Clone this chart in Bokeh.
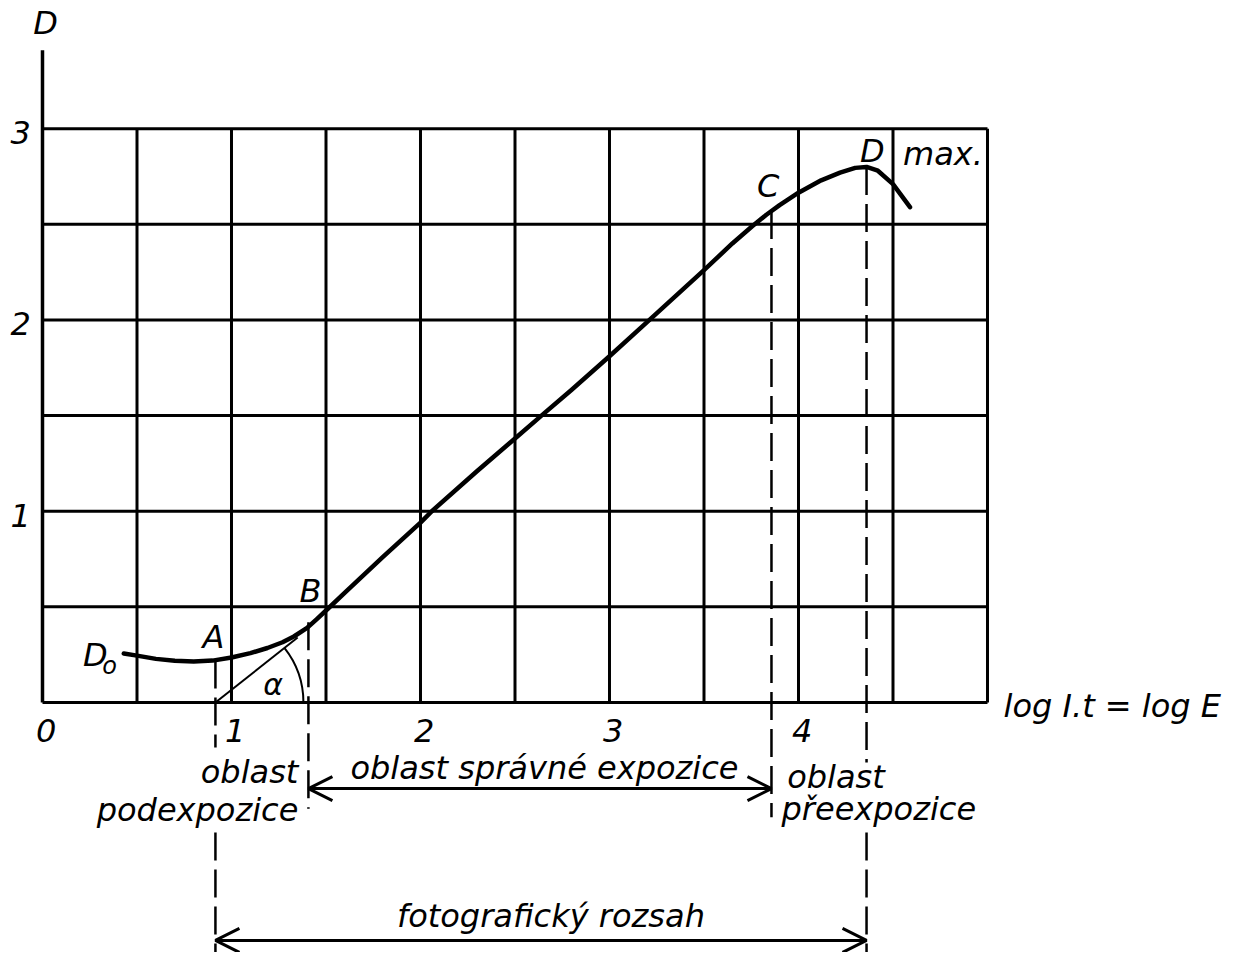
from bokeh.plotting import figure
from bokeh.models import Range1d, Arrow, OpenHead
from bokeh.core.properties import value
from bokeh.embed import file_html
from bokeh.resources import INLINE

# ---- data ----
# characteristic curve D = f(log E)
curve_x = [0.43, 0.5, 0.6, 0.7, 0.8, 0.9, 1.0, 1.1, 1.19, 1.27, 1.33, 1.40, 1.45, 1.51,
           1.6, 1.8, 2.0, 2.06, 2.3, 2.5, 2.64, 2.8, 3.0, 3.2, 3.5, 3.65, 3.755, 3.83, 3.9,
           4.0, 4.12, 4.22, 4.3, 4.36, 4.42, 4.5, 4.59]
curve_y = [0.256, 0.245, 0.228, 0.218, 0.214, 0.219, 0.235, 0.258, 0.285, 0.315, 0.345, 0.39, 0.435, 0.49,
           0.575, 0.76, 0.94, 1.0, 1.21, 1.38, 1.5, 1.635, 1.81, 1.99, 2.26, 2.40, 2.49, 2.55, 2.60,
           2.665, 2.73, 2.77, 2.795, 2.80, 2.78, 2.71, 2.59]

grid_x = [0.5, 1.0, 1.5, 2.0, 2.5, 3.0, 3.5, 4.0, 4.5, 5.0]
grid_y = [0.0, 0.5, 1.0, 1.5, 2.0, 2.5, 3.0]
x_ticks = [0, 1, 2, 3, 4]
x_tick_labels = ["0", "1", "2", "3", "4"]
y_ticks = [1, 2, 3]
y_tick_labels = ["1", "2", "3"]
y_axis_top = 3.41

# dashed verticals through A, B, C, D (broken where the region labels sit)
dash_x = [0.915, 0.915, 1.407, 3.857, 4.36, 4.36]
dash_top = [0.219, -0.68, 0.42, 2.57, 2.80, -0.68]
dash_bottom = [-0.235, -1.35, -0.555, -0.60, -0.314, -1.35]

# tangent at A
tan_x = [0.915, 1.35]
tan_y = [0.0, 0.34]

# range arrows
range_arrow_y = [-0.45, -1.244]
range_arrow_x0 = [1.407, 0.915]
range_arrow_x1 = [3.857, 4.36]

FONT = value("DejaVu Sans")

p = figure(width=1231, height=952,
           x_range=Range1d(-0.2222, 6.291), y_range=Range1d(-1.307, 3.670),
           x_axis_type=None, y_axis_type=None,
           output_backend="svg", toolbar_location=None,
           min_border=0, min_border_left=0, min_border_right=0,
           min_border_top=0, min_border_bottom=0)
p.grid.visible = False
p.outline_line_color = None
p.background_fill_color = "white"

# grid
gx0 = [0.0] * len(grid_y)
gx1 = [5.0] * len(grid_y)
p.segment(x0=gx0, y0=grid_y, x1=gx1, y1=grid_y, line_color="black", line_width=3)
p.segment(x0=grid_x, y0=[0.0] * len(grid_x), x1=grid_x, y1=[3.0] * len(grid_x),
          line_color="black", line_width=3)
# y axis
p.segment(x0=[0.0], y0=[0.0], x1=[0.0], y1=[y_axis_top], line_color="black", line_width=3.5)

# dashed verticals
p.segment(x0=dash_x, y0=dash_top, x1=dash_x, y1=dash_bottom, line_color="black",
          line_width=2.5, line_dash="28 9")

# tangent and angle arc
p.line(tan_x, tan_y, line_color="black", line_width=2)
p.arc(x=[tan_x[0]], y=[0.0], radius=88, radius_units="screen",
      start_angle=0.0, end_angle=0.67, line_color="black", line_width=2)

# curve
p.line(curve_x, curve_y, line_color="black", line_width=4.5, line_join="round", line_cap="round")

# range arrows
for yy, xa, xb in zip(range_arrow_y, range_arrow_x0, range_arrow_x1):
    p.add_layout(Arrow(x_start=xa, y_start=yy, x_end=xb, y_end=yy,
                       line_color="black", line_width=3,
                       start=OpenHead(size=24, line_width=3, line_color="black"),
                       end=OpenHead(size=24, line_width=3, line_color="black")))

def txt(x, y, s, size="32px", align="center", baseline="middle"):
    p.text(x=[x], y=[y], text=[s], text_font=FONT, text_font_style="italic",
           text_font_size=size, text_align=align, text_baseline=baseline,
           text_color="black")

# tick labels
for t, lab in zip(x_ticks, x_tick_labels):
    txt(t + 0.02, -0.146, lab)
for t, lab in zip(y_ticks, y_tick_labels):
    txt(-0.116, t - 0.02, lab)

# axis titles
txt(0.016, 3.55, "D")
txt(5.085, -0.016, "log I.t = log E", align="left")

# labels on curve
txt(0.28, 0.246, "D")
txt(0.355, 0.19, "o", size="24px")
txt(0.905, 0.34, "A")
txt(1.418, 0.585, "B")
txt(3.84, 2.70, "C")
txt(4.39, 2.885, "D")
txt(4.553, 2.87, "max.", align="left")
txt(1.22, 0.095, "α", size="30px")

# region labels
txt(1.354, -0.365, "oblast", align="right", baseline="alphabetic")
txt(1.354, -0.56, "podexpozice", align="right", baseline="alphabetic")
txt(2.656, -0.34, "oblast správné expozice", baseline="alphabetic")
txt(3.94, -0.39, "oblast", align="left", baseline="alphabetic")
txt(3.91, -0.555, "přeexpozice", align="left", baseline="alphabetic")
txt(2.69, -1.118, "fotografický rozsah", baseline="alphabetic")

open("out.html", "w").write(file_html(p, INLINE))
